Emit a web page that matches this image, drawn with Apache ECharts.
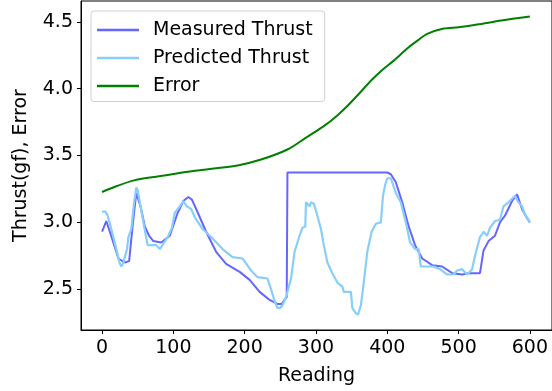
<!DOCTYPE html>
<html>
<head>
<meta charset="utf-8">
<script src="https://cdn.jsdelivr.net/npm/echarts@6/dist/echarts.min.js"></script>
<style>
  html, body { margin: 0; padding: 0; background: #fff; }
  #chart { width: 552px; height: 391px; }
</style>
</head>
<body>
<div id="chart"></div>
<script>
// readings / values
const measuredX = [0, 6, 14, 23, 32, 38, 43, 48, 54, 60, 66, 72, 83, 95, 106, 114, 121, 126, 132, 146, 160, 174, 193, 207, 221, 235, 246, 252, 256, 259,
  260, 400, 405, 412, 421, 430, 439, 449, 463, 477, 491, 505, 514, 530, 535, 542, 551, 558, 565, 575, 582, 589, 595, 600];
const measuredY = [2.93, 3.01, 2.88, 2.73, 2.70, 2.71, 2.98, 3.22, 3.12, 2.97, 2.90, 2.86, 2.85, 2.90, 3.07, 3.16, 3.19, 3.17, 3.10, 2.93, 2.78, 2.69, 2.63, 2.57, 2.48, 2.42, 2.39, 2.39, 2.42, 2.44,
  3.373, 3.373, 3.36, 3.30, 3.15, 2.97, 2.83, 2.73, 2.68, 2.67, 2.62, 2.61, 2.62, 2.62, 2.79, 2.86, 2.90, 3.00, 3.05, 3.16, 3.21, 3.10, 3.04, 3.00];

const predictedX = [0, 5, 8, 14, 20, 25, 27, 30, 32, 35, 37, 41, 45, 48, 50, 53, 59, 64, 70, 76, 81, 86, 93, 98, 102, 109, 114, 119, 125, 130,
  141, 155, 169, 183, 197, 209, 218, 232, 237, 242, 246, 250, 253, 258, 265, 270, 277, 281, 285, 286, 291, 293, 297, 302, 307, 311, 316,
  323, 330, 337, 339, 349, 351, 356, 359, 363, 367, 372, 378, 384, 391, 394, 397, 400, 405, 412, 419, 426, 432, 439, 444, 447, 465, 474,
  484, 493, 498, 505, 512, 519, 523, 530, 535, 540, 544, 551, 558, 563, 570, 579, 584, 589, 593, 598, 600];
const predictedY = [3.08, 3.08, 3.05, 2.93, 2.80, 2.69, 2.67, 2.70, 2.74, 2.80, 2.89, 2.95, 3.15, 3.26, 3.24, 3.15, 2.97, 2.83, 2.83, 2.83, 2.80, 2.84, 2.90, 2.96, 3.07, 3.12, 3.16, 3.12, 3.10, 3.04,
  2.95, 2.88, 2.80, 2.74, 2.73, 2.64, 2.59, 2.58, 2.50, 2.41, 2.36, 2.36, 2.38, 2.44, 2.58, 2.78, 2.90, 2.96, 2.97, 3.15, 3.12, 3.15, 3.14, 3.05, 2.95, 2.83, 2.70,
  2.62, 2.55, 2.52, 2.48, 2.48, 2.36, 2.32, 2.31, 2.38, 2.55, 2.78, 2.93, 2.99, 3.00, 3.20, 3.28, 3.33, 3.33, 3.22, 3.15, 3.00, 2.85, 2.80, 2.80, 2.67, 2.67, 2.65,
  2.61, 2.61, 2.64, 2.65, 2.61, 2.65, 2.75, 2.89, 2.93, 2.90, 2.96, 3.01, 3.02, 3.12, 3.15, 3.20, 3.15, 3.12, 3.06, 3.02, 3.00];

const errorX = [0, 20, 46, 80, 130, 190, 223, 260, 285, 311, 330, 344, 360, 377, 393, 409, 430, 445, 456, 479, 500, 526, 560, 600];
const errorY = [3.227, 3.27, 3.316, 3.345, 3.386, 3.426, 3.47, 3.545, 3.63, 3.72, 3.80, 3.87, 3.96, 4.06, 4.14, 4.21, 4.31, 4.37, 4.41, 4.45, 4.46, 4.48, 4.51, 4.54];

const xTicks = [0, 100, 200, 300, 400, 500, 600];
const yTicks = [2.5, 3.0, 3.5, 4.0, 4.5];

function pairs(xs, ys) {
  let out = [];
  for (let i = 0; i < xs.length; i++) {
    out.push([xs[i], ys[i]]);
  }
  return out;
}

const font = "DejaVu Sans";
const myChart = echarts.init(document.getElementById("chart"), null, { renderer: "canvas" });

let option = {
  animation: false,
  backgroundColor: "#fff",
  grid: {
    left: 81,
    top: 1,
    width: 473,
    bottom: 59,
    show: true,
    borderColor: "#000",
    borderWidth: 1,
  },
  legend: {
    orient: "vertical",
    left: 91,
    top: 11,
    icon: "rect",
    itemWidth: 42,
    itemHeight: 2.5,
    itemGap: 9,
    padding: [9.5, 12, 6, 6],
    backgroundColor: "rgba(255,255,255,0.8)",
    borderColor: "#d0d0d0",
    borderWidth: 1,
    borderRadius: 3,
    textStyle: {
      fontFamily: font,
      fontSize: 19,
      color: "#000",
      padding: [0, 0, 0, 9],
    },
    data: ["Measured Thrust", "Predicted Thrust", "Error"],
  },
  xAxis: {
    type: "value",
    min: -29.5,
    max: 631,
    name: "Reading",
    nameLocation: "middle",
    nameGap: 37,
    nameTextStyle: { fontFamily: font, fontSize: 19, color: "#000" },
    splitLine: { show: false },
    axisLine: { onZero: false, lineStyle: { color: "#000" } },
    axisTick: { customValues: xTicks, length: 4, lineStyle: { color: "#000" } },
    axisLabel: { customValues: xTicks, margin: 9, fontFamily: font, fontSize: 19, color: "#000" },
  },
  yAxis: {
    type: "value",
    min: 2.195,
    max: 4.656,
    name: "Thrust(gf), Error",
    nameLocation: "middle",
    nameGap: 50,
    nameTextStyle: { fontFamily: font, fontSize: 19, color: "#000" },
    splitLine: { show: false },
    axisLine: { show: true, onZero: false, lineStyle: { color: "#000" } },
    axisTick: { show: true, customValues: yTicks, length: 4, lineStyle: { color: "#000" } },
    axisLabel: {
      customValues: yTicks,
      margin: 8,
      fontFamily: font,
      fontSize: 19,
      color: "#000",
      formatter: (v) => v.toFixed(1),
    },
  },
  series: [
    {
      name: "Measured Thrust",
      type: "line",
      symbol: "none",
      data: pairs(measuredX, measuredY),
      color: "rgb(102,102,255)",
      lineStyle: { width: 2 },
    },
    {
      name: "Predicted Thrust",
      type: "line",
      symbol: "none",
      data: pairs(predictedX, predictedY),
      color: "#87cefa",
      lineStyle: { width: 2.2 },
    },
    {
      name: "Error",
      type: "line",
      symbol: "none",
      smooth: 0.3,
      data: pairs(errorX, errorY),
      color: "#008000",
      lineStyle: { width: 2 },
    },
  ],
};

myChart.setOption(option);
</script>
</body>
</html>
